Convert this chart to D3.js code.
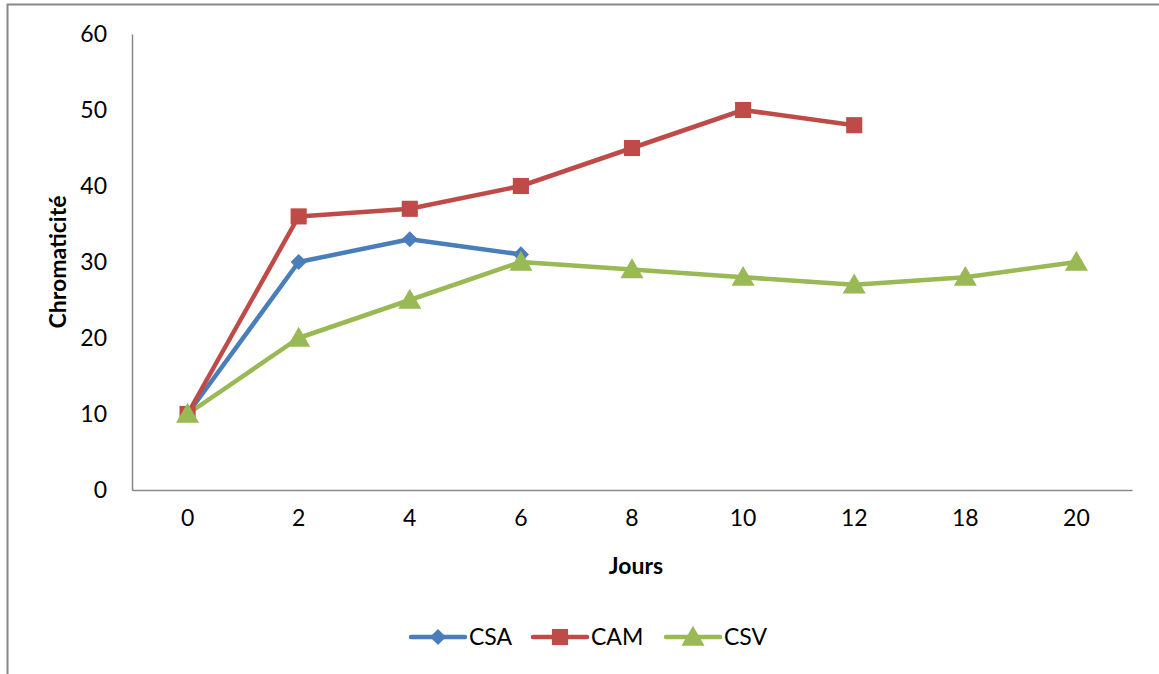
<!DOCTYPE html>
<html><head><meta charset="utf-8">
<script src="https://cdn.jsdelivr.net/npm/d3@7"></script>
<style>body{margin:0;background:#fff;} svg{display:block;} text{font-family:Lato,"Open Sans",sans-serif;fill:#000;}</style>
</head><body>
<svg id="c" width="1159" height="674"></svg>
<script>
const categories = ["0","2","4","6","8","10","12","18","20"];
const csa = [10,30,33,31,null,null,null,null,null];
const cam = [10,36,37,40,45,50,48,null,null];
const csv = [10,20,25,30,29,28,27,28,30];
const yTicks = [0,10,20,30,40,50,60];
const seriesNames = ["CSA","CAM","CSV"];
const colors = ["#4A7EBB","#BE4B48","#98B954"];
const shapes = [d3.symbolSquare, d3.symbolSquare, d3.symbolTriangle];
const symSizes = [130, 260, 230];
const rot = [45, 0, 0];

(function(){
const svg = d3.select("#c");
const FS = "23px";
svg.append("rect").attr("x",7.5).attr("y",4.5).attr("width",1200).attr("height",700)
  .attr("fill","none").attr("stroke","#888").attr("stroke-width",2);

const mL=132, mR=1132, mT=34, mB=490;
const x = d3.scaleBand().domain(categories).range([mL,mR]);
const y = d3.scaleLinear().domain([0,60]).range([mB,mT]);

const ya = svg.append("g").attr("transform",`translate(${mL},0)`)
  .call(d3.axisLeft(y).tickValues(yTicks).tickSize(0).tickPadding(25));
ya.select(".domain").attr("stroke","#888").attr("stroke-width",1.5);
ya.selectAll("text").style("font-size",FS).attr("font-family","Lato,'Open Sans',sans-serif");
const xa = svg.append("g").attr("transform",`translate(0,${mB})`)
  .call(d3.axisBottom(x).tickSize(0).tickPadding(20));
xa.select(".domain").attr("stroke","#888").attr("stroke-width",1.5);
xa.selectAll("text").style("font-size",FS).attr("font-family","Lato,'Open Sans',sans-serif");

const data = [csa,cam,csv];
const line = d3.line().defined(d=>d.v!=null).x(d=>x(d.c)+x.bandwidth()/2).y(d=>y(d.v));
data.forEach((vals,i)=>{
  const pts = vals.map((v,j)=>({c:categories[j],v}));
  svg.append("path").datum(pts).attr("d",line).attr("fill","none")
    .attr("stroke",colors[i]).attr("stroke-width",4.5).attr("stroke-linejoin","round").attr("stroke-linecap","round");
});
data.forEach((vals,i)=>{
  const pts = vals.map((v,j)=>({c:categories[j],v})).filter(d=>d.v!=null);
  svg.append("g").selectAll("path").data(pts).join("path")
    .attr("d",d3.symbol().type(shapes[i]).size(symSizes[i]))
    .attr("transform",d=>`translate(${x(d.c)+x.bandwidth()/2},${y(d.v)+(i===2?2:0)}) rotate(${rot[i]})`)
    .attr("fill",colors[i]);
});

svg.append("text").attr("x",636).attr("y",574).attr("text-anchor","middle")
  .style("font-size",FS).style("font-weight","bold").text("Jours");
svg.append("text").attr("transform","translate(66,262) rotate(-90)").attr("text-anchor","middle")
  .style("font-size",FS).style("font-weight","bold").text("Chromaticité");

const legX = [411,533,666];
seriesNames.forEach((n,i)=>{
  const g = svg.append("g").attr("transform",`translate(${legX[i]},637)`);
  g.append("line").attr("x1",0).attr("x2",54).attr("stroke",colors[i]).attr("stroke-width",4.5).attr("stroke-linecap","round");
  g.append("path").attr("d",d3.symbol().type(shapes[i]).size(symSizes[i])).attr("transform",`translate(27,${i===2?2:0}) rotate(${rot[i]})`).attr("fill",colors[i]);
  g.append("text").attr("x",58).attr("y",8).style("font-size",FS).text(n);
});
})();
</script>
</body></html>
